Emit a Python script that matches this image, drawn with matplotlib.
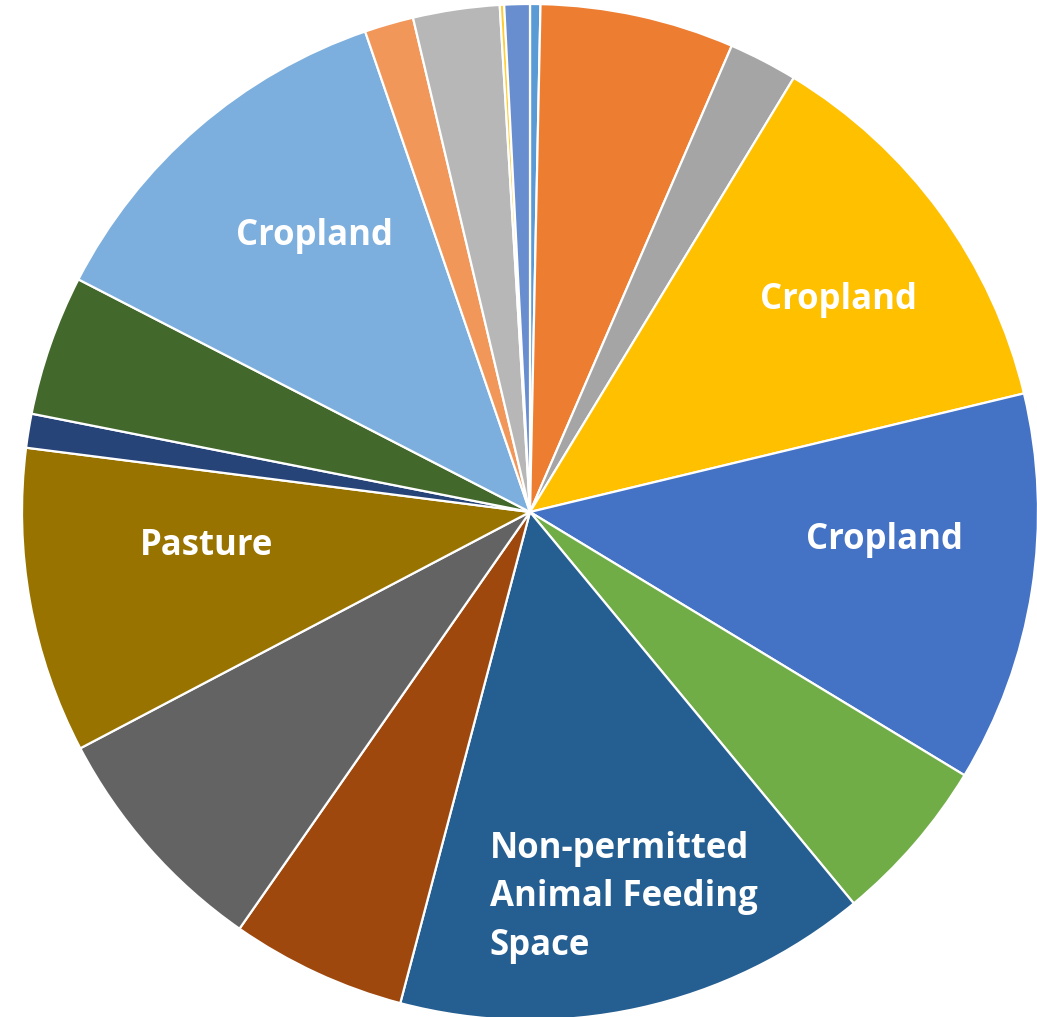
import numpy as np
import matplotlib.pyplot as plt

# land use shares (percent), clockwise from 12 o'clock
shares = [0.33, 6.17, 2.19, 12.56, 12.42, 5.33, 15.11, 5.58, 7.61, 9.72,
          1.08, 4.47, 12.17, 1.56, 2.75, 0.14, 0.81]
colors = ['#5B9BD5', '#ED7D31', '#A5A5A5', '#FFC000', '#4472C4', '#70AD47',
          '#255E91', '#9E480E', '#636363', '#997300', '#264478', '#43682B',
          '#7CAFDD', '#F1975A', '#B7B7B7', '#FFCD33', '#698ED0']

# only a few slices carry a label
labels = {3: 'Cropland', 4: 'Cropland',
          6: 'Non-permitted\nAnimal Feeding\nSpace',
          9: 'Pasture', 12: 'Cropland'}
# radial fraction and angle nudge (deg) for each label
label_pos = {3: (0.7375, 1.6), 4: (0.70, -4.3), 6: (0.78, -1.0),
             9: (0.64, 4.3), 12: (0.689, 2.9)}

fig = plt.figure(figsize=(10.37, 10.17), dpi=100)
ax = fig.add_axes([22 / 1037, -3 / 1017, 1016 / 1037, 1016 / 1017])

wedges, _ = ax.pie(shares, colors=colors, startangle=90, counterclock=False,
                   radius=1.0, wedgeprops=dict(edgecolor='white', linewidth=1.6))

for i, text in labels.items():
    w = wedges[i]
    mid = 0.5 * (w.theta1 + w.theta2)
    r, nudge = label_pos[i]
    a = np.deg2rad(mid - nudge)
    x, y = r * np.cos(a), r * np.sin(a)
    if i == 6:
        ax.text(x - 0.26, y, text, ha='left', va='center', color='white',
                fontsize=25, fontweight='bold', family='Open Sans',
                linespacing=1.45)
    else:
        ax.text(x, y, text, ha='center', va='center', color='white',
                fontsize=25, fontweight='bold', family='Open Sans')

ax.set_xlim(-1, 1)
ax.set_ylim(-1, 1)
ax.set_aspect('equal')
ax.axis('off')

fig.savefig('out.png', dpi=100)
